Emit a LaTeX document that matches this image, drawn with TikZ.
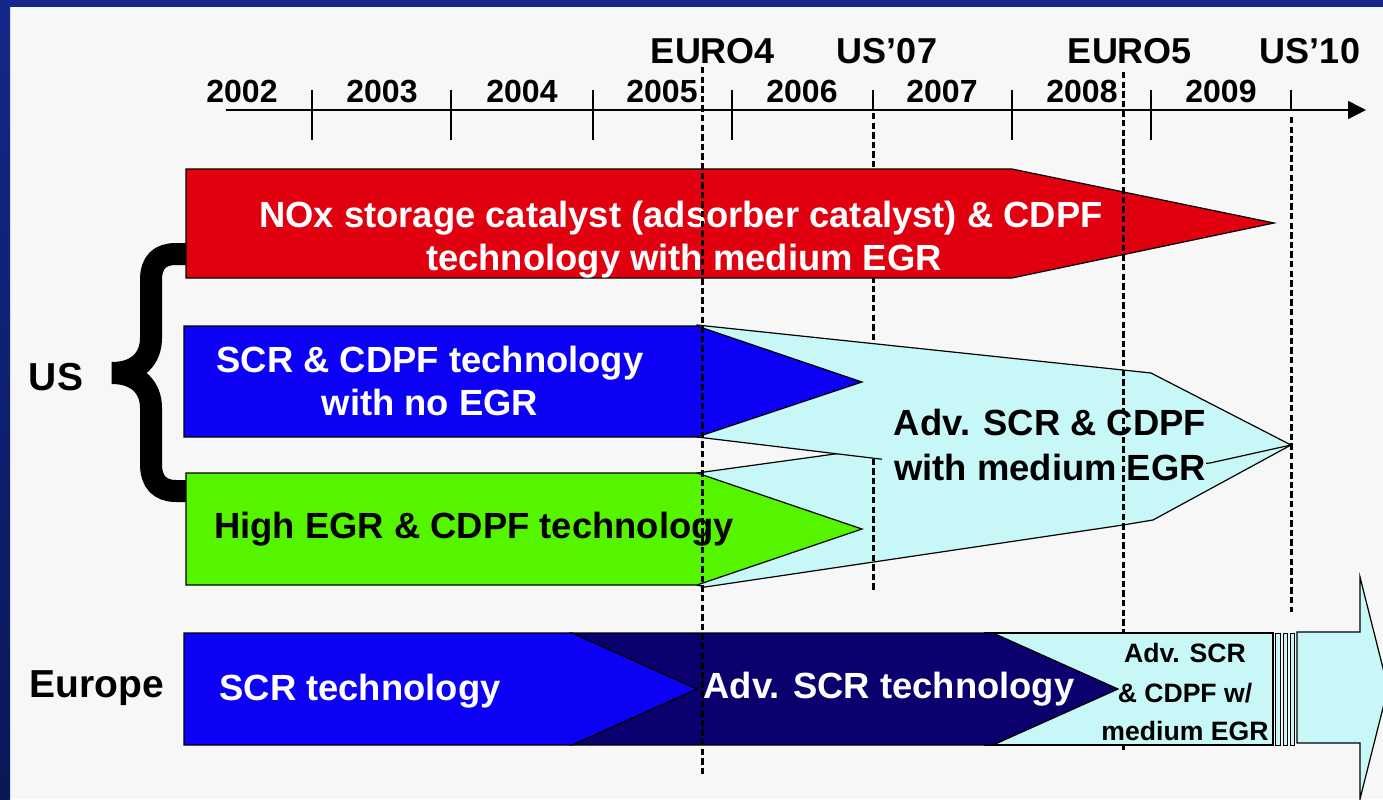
\documentclass[tikz,border=0pt]{standalone}
\usepackage{fontspec}
\setmainfont{Liberation Sans}
\usetikzlibrary{arrows.meta}
\definecolor{bgc}{HTML}{F7F7F7}
\definecolor{framec}{RGB}{19,40,138}
\definecolor{framed}{RGB}{10,24,88}
\definecolor{redc}{RGB}{224,0,16}
\definecolor{bluec}{RGB}{12,0,245}
\definecolor{greenc}{RGB}{85,245,0}
\definecolor{navyc}{RGB}{10,0,110}
\definecolor{cyanc}{RGB}{200,247,247}
\begin{document}
\begin{tikzpicture}[x=0.5pt,y=-0.5pt,
  box/.style={draw=black,line width=0.6pt,line join=miter},
  guide/.style={line width=1.5pt,dash pattern=on 3.2pt off 1.6pt},
  tickmark/.style={line width=0.7pt},
  yearlbl/.style={font=\fontsize{16}{16}\selectfont\bfseries,anchor=base,inner sep=0pt},
  stdlbl/.style={font=\fontsize{18}{18}\selectfont\bfseries,anchor=base,inner sep=0pt},
  boxtxt/.style={font=\fontsize{18.2}{18.2}\selectfont\bfseries,anchor=base,inner sep=0pt},
  sidelbl/.style={font=\fontsize{19.5}{19.5}\selectfont\bfseries,anchor=base,inner sep=0pt},
  smalltxt/.style={font=\fontsize{13.3}{13.3}\selectfont\bfseries,anchor=base,inner sep=0pt},
]
\useasboundingbox (0,0) rectangle (1383,799);
\clip (0,0) rectangle (1383,799);
% background and frame
\fill[bgc] (0,0) rectangle (1383,799);
\shade[top color=framec,bottom color=framed] (0,0) rectangle (10,799);
\fill[framec] (0,0) rectangle (1383,7);

% time axis
\coordinate (axL) at (226,110);
\coordinate (axR) at (1366,110);
\draw[line width=0.8pt,-{Triangle[length=9pt,width=9pt]}] (axL) -- (axR);
\foreach \x in {312,451,593,732,1012,1151} \draw[tickmark] (\x,90) -- (\x,140);
\foreach \x in {873,1291} \draw[tickmark] (\x,90) -- (\x,110);
\foreach \yr/\x in {2002/242,2003/382,2004/522,2005/662,2006/802,2007/942,2008/1082,2009/1221}
  \node[yearlbl] (yr\yr) at (\x,102) {\yr};
\node[stdlbl] (euro4) at (713,63) {EURO4};
\node[stdlbl] (us07) at (887,63) {US’07};
\node[stdlbl] (euro5) at (1130,63) {EURO5};
\node[stdlbl] (us10) at (1310,63) {US’10};

% side labels
\node[sidelbl] (lblus) at (56,390) {US};
\node[sidelbl] (lbleu) at (97,697) {Europe};

% brace
\draw[line width=11pt,line join=miter] (188,254) -- (176,254) .. controls (160,254) and (151,262) .. (151,280) -- (151,338) .. controls (151,358) and (138,373) .. (112,373) .. controls (138,373) and (151,388) .. (151,408) -- (151,464) .. controls (151,482) and (160,491) .. (176,491) -- (188,491);

% lower light-cyan shape
\draw[box,fill=cyanc] (697,473) -- (900,445) -- (1291,445) -- (1153,520) -- (1123,525) -- (705,587) -- (697,585) -- cycle;
% green bar
\draw[box,fill=greenc] (186,473) -- (697,473) -- (862,529) -- (697,585) -- (186,585) -- cycle;
\node[boxtxt,text=black] (txtgreen) at (474,538) {High EGR \& CDPF technology};

% US'07 guide (behind upper shapes)
\draw[guide] (873,113) -- (873,592);

% upper light-cyan shape
\draw[box,fill=cyanc] (697,325) -- (1123,370) -- (1151,373) -- (1291,445) -- (1210,463) -- (1030,477) -- (697,437) -- cycle;
% blue bar
\draw[box,fill=bluec] (184,326) -- (697,326) -- (862,382) -- (697,437) -- (184,437) -- cycle;
\node[boxtxt,text=white] (txtblue1) at (430,372) {SCR \& CDPF technology};
\node[boxtxt,text=white] (txtblue2) at (430,415) {with no EGR};

% text of advanced shape
\fill[cyanc] (882,407) rectangle (1206,486);
\node[boxtxt,text=black] (txtadv1) at (1050,435) {Adv. SCR \& CDPF};
\node[boxtxt,text=black] (txtadv2) at (1050,480) {with medium EGR};

% red bar
\draw[box,fill=redc] (186,169) -- (1012,169) -- (1274,223) -- (1012,278) -- (186,278) -- cycle;
\node[boxtxt,text=white] (txtred1) at (681,227) {NOx storage catalyst (adsorber catalyst) \& CDPF};
\node[boxtxt,text=white] (txtred2) at (684,270) {technology with medium EGR};

% EURO5 and US'10 guides
\draw[guide] (1123,72) -- (1123,753);
\draw[guide] (1291,117) -- (1291,612);

% Europe row
\draw[box,fill=cyanc] (985,633) rectangle (1273,745);
\draw[box,fill=navyc] (570,633) -- (993,633) -- (1118,689) -- (993,745) -- (570,745) -- cycle;
\draw[box,fill=bluec] (184,633) -- (572,633) -- (697,689) -- (572,745) -- (184,745) -- cycle;
\foreach \a/\b in {1275/1280,1283/1287,1290/1294}
  \draw[box,line width=0.5pt,fill=cyanc] (\a,633) rectangle (\b,745);
\draw[box,fill=cyanc] (1297,632) -- (1360,632) -- (1360,577) -- (1388,688) -- (1360,799) -- (1360,743) -- (1297,743) -- cycle;
\node[boxtxt,text=white] (txteu1) at (360,700) {SCR technology};
\node[boxtxt,text=white] (txteu2) at (889,698) {Adv. SCR technology};
\node[smalltxt,text=black] (txteu3a) at (1185,662) {Adv. SCR};
\node[smalltxt,text=black] (txteu3b) at (1185,702) {\& CDPF w/};
\node[smalltxt,text=black] (txteu3c) at (1185,740) {medium EGR};

% EURO4 guide on top
\draw[guide] (702,67) -- (702,777);
\end{tikzpicture}
\end{document}
